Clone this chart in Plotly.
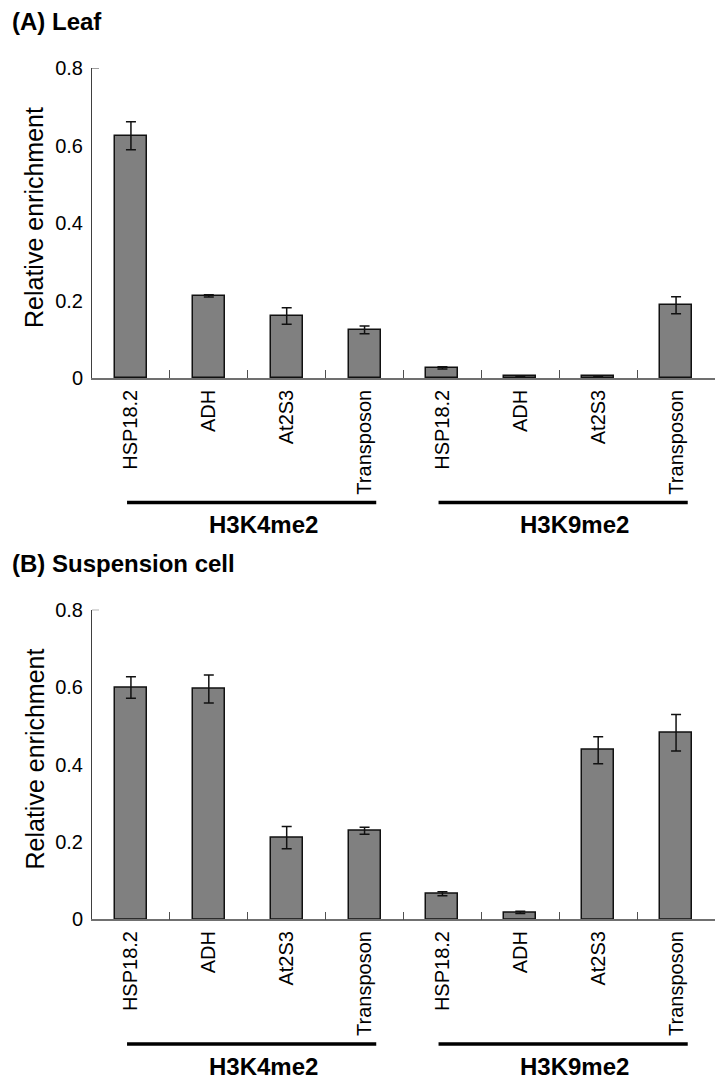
import plotly.graph_objects as go

# ---------------- data ----------------
categories = ["HSP18.2", "ADH", "At2S3", "Transposon",
              "HSP18.2", "ADH", "At2S3", "Transposon"]
groups = ["H3K4me2", "H3K9me2"]
group_members = [[0, 1, 2, 3], [4, 5, 6, 7]]

leaf_vals = [0.625, 0.212, 0.160, 0.124, 0.026, 0.004, 0.004, 0.188]
leaf_err = [0.036, 0.003, 0.021, 0.010, 0.003, 0.002, 0.002, 0.022]

susp_vals = [0.599, 0.595, 0.211, 0.229, 0.066, 0.018, 0.437, 0.482]
susp_err = [0.028, 0.036, 0.029, 0.009, 0.005, 0.003, 0.035, 0.047]

panel_titles = ["(A) Leaf", "(B) Suspension cell"]
y_title = "Relative enrichment"
y_ticks = [0, 0.2, 0.4, 0.6, 0.8]
y_ticktext = ["0", "0.2", "0.4", "0.6", "0.8"]

# ---------------- layout constants ----------------
W, H = 715, 1079
FONT = "Liberation Sans, Arial, sans-serif"
xpos = list(range(len(categories)))

def py(px):
    return 1 - px / H

panels = [
    dict(vals=leaf_vals, err=leaf_err, top=68, bottom=378,
         line_y=502.5, label_y=525, title_y=21),
    dict(vals=susp_vals, err=susp_err, top=609.7, bottom=919.3,
         line_y=1044, label_y=1066, title_y=563),
]

fig = go.Figure()
shapes = []
annotations = []

for i, p in enumerate(panels):
    xa = "x" if i == 0 else "x2"
    ya = "y" if i == 0 else "y2"
    fig.add_trace(go.Bar(
        x=xpos, y=p["vals"], xaxis=xa, yaxis=ya, width=0.41,
        marker=dict(color="#808080", line=dict(color="#111111", width=1.5)),
        error_y=dict(type="data", array=p["err"], visible=True,
                     color="#111111", thickness=1.5, width=5),
        showlegend=False, hoverinfo="skip",
    ))
    dom = [py(p["bottom"]), py(p["top"])]
    xkey = "xaxis" if i == 0 else "xaxis2"
    ykey = "yaxis" if i == 0 else "yaxis2"
    fig.layout[xkey] = dict(
        domain=[92 / W, 1.0], range=[-0.5, len(categories) - 0.5],
        anchor=ya, tickmode="array", tickvals=xpos, ticktext=categories,
        tickangle=-90, ticks="", showline=True, linecolor="#707070",
        linewidth=1.5, showgrid=False, zeroline=False, automargin=False,
        tickfont=dict(family=FONT, size=20, color="#000000"),
        ticklabelstandoff=2,
        minor=dict(tickvals=[k + 0.5 for k in xpos[:-1]], ticks="inside",
                   ticklen=8, tickcolor="#505050", tickwidth=1, showgrid=False),
        fixedrange=True,
    )
    fig.layout[ykey] = dict(
        domain=dom, range=[0, max(y_ticks)], anchor=xa,
        tickmode="array", tickvals=y_ticks, ticktext=y_ticktext,
        ticks="", showline=True, linecolor="#404040", linewidth=1,
        showgrid=False, zeroline=False, automargin=False,
        tickfont=dict(family=FONT, size=20, color="#000000"),
        ticklabelstandoff=4, fixedrange=True,
    )
    # top tick cap on y axis
    shapes.append(dict(type="line", xref=f"{xa} domain", yref=ya,
                       x0=0, x1=7 / 623, y0=max(y_ticks), y1=max(y_ticks),
                       line=dict(color="#404040", width=1)))
    # group lines + labels
    for g, members in zip(groups, group_members):
        shapes.append(dict(type="line", xref=xa, yref="paper",
                           x0=members[0] - 0.05, x1=members[-1] + 0.15,
                           y0=py(p["line_y"]), y1=py(p["line_y"]),
                           line=dict(color="black", width=3.5)))
        annotations.append(dict(
            text=f"<b>{g}</b>", xref=xa, yref="paper",
            x=(members[0] + members[-1]) / 2 + 0.2, y=py(p["label_y"]),
            showarrow=False, xanchor="center", yanchor="middle",
            font=dict(family=FONT, size=24, color="black")))
    # panel title
    annotations.append(dict(
        text=f"<b>{panel_titles[i]}</b>", xref="paper", yref="paper",
        x=10 / W, y=py(p["title_y"]), showarrow=False,
        xanchor="left", yanchor="middle",
        font=dict(family=FONT, size=24, color="black")))
    # y title
    annotations.append(dict(
        text=y_title, xref="paper", yref="paper", textangle=-90,
        x=34 / W, y=py((p["top"] + p["bottom"]) / 2 - 5), showarrow=False,
        xanchor="center", yanchor="middle",
        font=dict(family=FONT, size=25, color="#000000")))

fig.update_layout(
    width=W, height=H, margin=dict(l=0, r=0, t=0, b=0, autoexpand=False),
    paper_bgcolor="white", plot_bgcolor="white",
    shapes=shapes, annotations=annotations, bargap=0,
)

fig.write_html(
    "out.html",
    config={"displayModeBar": False},
    post_script="document.body.style.margin='0';document.body.style.overflow='hidden';",
)
